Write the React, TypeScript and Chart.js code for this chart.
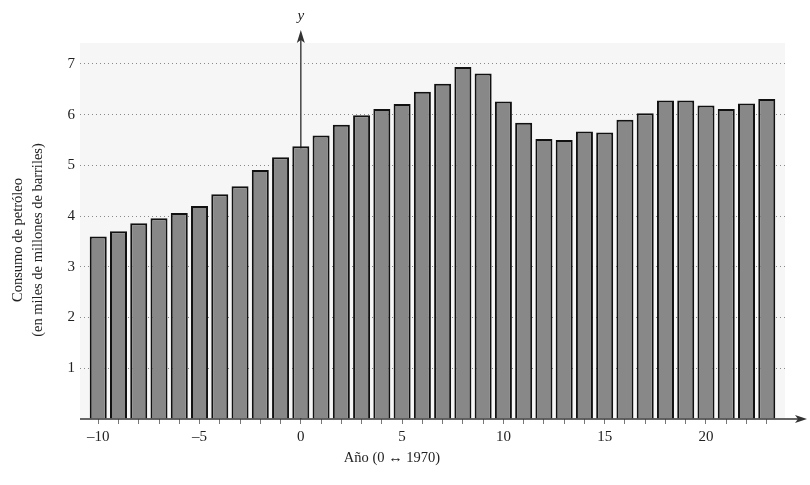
import React, { useEffect, useRef } from "react";
import { Chart, registerables } from "chart.js";

Chart.register(...registerables);

const years = [-10, -9, -8, -7, -6, -5, -4, -3, -2, -1, 0, 1, 2, 3, 4, 5, 6, 7, 8, 9, 10, 11, 12, 13, 14, 15, 16, 17, 18, 19, 20, 21, 22, 23];
const consumption = [3.6, 3.7, 3.86, 3.96, 4.06, 4.2, 4.43, 4.59, 4.91, 5.16, 5.38, 5.59, 5.8, 5.99, 6.11, 6.21, 6.45, 6.61, 6.94, 6.81, 6.26, 5.84, 5.52, 5.5, 5.67, 5.65, 5.9, 6.03, 6.28, 6.28, 6.18, 6.11, 6.22, 6.31];
const xLabelValues = [-10, -5, 0, 5, 10, 15, 20];
const yLabelValues = [1, 2, 3, 4, 5, 6, 7];
const yTitleLines = ["Consumo de petróleo", "(en miles de millones de barriles)"];
const xTitle = "Año (0 ↔ 1970)";
const yAxisName = "y";

const FONT = "'Liberation Serif', 'Times New Roman', serif";

const axesPlugin = {
  id: "customAxes",
  beforeDraw(chart: any) {
    const { ctx, chartArea } = chart;
    ctx.save();
    ctx.fillStyle = "#f6f6f6";
    ctx.fillRect(chartArea.left, chartArea.top + 12, chartArea.right - chartArea.left, chartArea.bottom - chartArea.top - 12);
    ctx.restore();
  },
  beforeDatasetsDraw(chart: any) {
    const { ctx, chartArea, scales } = chart;
    const x0 = scales.x.getPixelForValue(0);
    const yb = scales.y.getPixelForValue(0);
    const top = chartArea.top;
    ctx.save();
    ctx.strokeStyle = "#444";
    ctx.lineWidth = 1.5;
    ctx.beginPath();
    ctx.moveTo(x0, yb);
    ctx.lineTo(x0, top + 8);
    ctx.stroke();
    ctx.fillStyle = "#333";
    ctx.beginPath();
    ctx.moveTo(x0, top - 1);
    ctx.lineTo(x0 - 4, top + 12);
    ctx.lineTo(x0, top + 9);
    ctx.lineTo(x0 + 4, top + 12);
    ctx.closePath();
    ctx.fill();
    ctx.font = "italic 15px " + FONT;
    ctx.fillStyle = "#222";
    ctx.textAlign = "center";
    ctx.textBaseline = "middle";
    ctx.fillText(yAxisName, x0, top - 15);
    ctx.restore();
  },
  afterDatasetsDraw(chart: any) {
    const { ctx, chartArea, scales } = chart;
    const yb = scales.y.getPixelForValue(0);
    ctx.save();
    ctx.strokeStyle = "#333";
    ctx.lineWidth = 1.5;
    ctx.beginPath();
    ctx.moveTo(chartArea.left, yb);
    ctx.lineTo(chartArea.right + 14, yb);
    ctx.stroke();
    ctx.fillStyle = "#333";
    const tipX = chartArea.right + 22;
    ctx.beginPath();
    ctx.moveTo(tipX, yb);
    ctx.lineTo(tipX - 12, yb - 4);
    ctx.lineTo(tipX - 9, yb);
    ctx.lineTo(tipX - 12, yb + 4);
    ctx.closePath();
    ctx.fill();

    ctx.fillStyle = "#222";
    ctx.font = "14.5px " + FONT;
    ctx.textAlign = "center";
    ctx.textBaseline = "middle";
    ctx.fillText(xTitle, 392, 458);

    const cy = (chartArea.top + chartArea.bottom) / 2 + 15;
    ctx.translate(0, cy);
    ctx.rotate(-Math.PI / 2);
    ctx.fillText(yTitleLines[0], 0, 18);
    ctx.fillText(yTitleLines[1], 0, 38);
    ctx.restore();
  },
};

function fmt(v: number) {
  return v < 0 ? "–" + Math.abs(v) : String(v);
}

export default function App() {
  const canvasRef = useRef<HTMLCanvasElement | null>(null);

  useEffect(() => {
    if (!canvasRef.current) return;
    const chart = new Chart(canvasRef.current, {
      type: "bar",
      data: {
        datasets: [
          {
            data: years.map((x, i) => ({ x, y: consumption[i] })),
            backgroundColor: "#888888",
            borderColor: "#111",
            borderWidth: 2,
            barPercentage: 0.84,
            categoryPercentage: 1,
          },
        ],
      },
      options: {
        animation: false,
        responsive: true,
        maintainAspectRatio: false,
        layout: { padding: { top: 31, right: 25, left: 0, bottom: 0 } },
        plugins: { legend: { display: false }, tooltip: { enabled: false } },
        scales: {
          x: {
            type: "linear",
            offset: false,
            min: -10.9,
            max: 23.9,
            afterFit(scale: any) {
              scale.height = 66;
            },
            border: { display: false },
            grid: { offset: false, drawOnChartArea: false, drawTicks: true, tickLength: 5, color: "#777" },
            ticks: {
              stepSize: 1,
              includeBounds: false,
              autoSkip: false,
              maxRotation: 0,
              padding: 4,
              color: "#222",
              font: { family: FONT, size: 15 },
              callback: (v: any) => (xLabelValues.includes(Number(v)) ? fmt(Number(v)) : ""),
            },
          },
          y: {
            type: "linear",
            min: 0,
            max: 7.65,
            afterFit(scale: any) {
              scale.width = 80;
            },
            border: { display: false, dash: [1, 3] },
            grid: {
              drawTicks: false,
              color: (c: any) => (c.tick && c.tick.value === 0 ? "rgba(0,0,0,0)" : "#8a8a8a"),
              lineWidth: 1,
            },
            ticks: {
              stepSize: 1,
              includeBounds: false,
              padding: 5,
              color: "#222",
              font: { family: FONT, size: 15 },
              callback: (v: any) => (yLabelValues.includes(Number(v)) ? String(v) : ""),
            },
          },
        },
      },
      plugins: [axesPlugin],
    } as any);
    return () => chart.destroy();
  }, []);

  return (
    <div style={{ position: "fixed", left: 0, top: 0, width: 810, height: 485, background: "#fff" }}>
      <canvas ref={canvasRef} />
    </div>
  );
}
